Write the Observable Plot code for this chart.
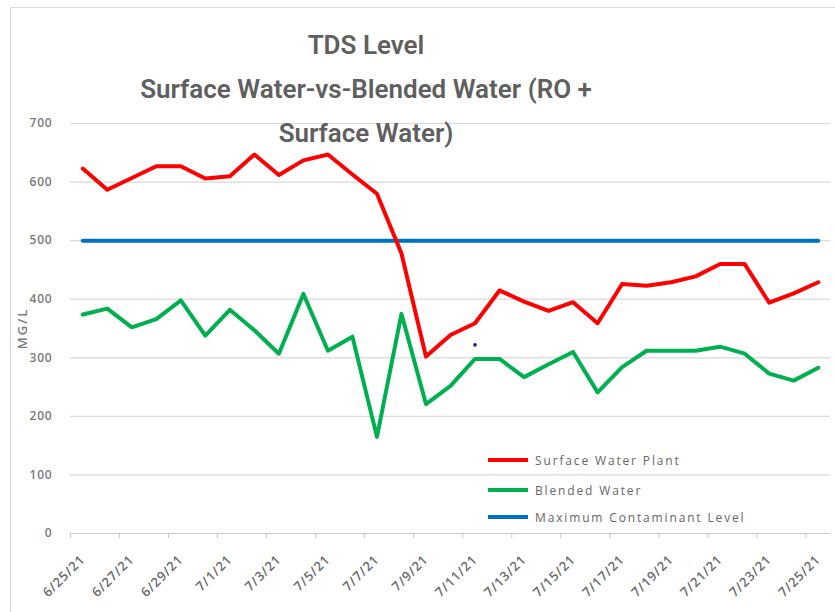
<!DOCTYPE html>
<html>
<head>
<meta charset="utf-8">
<script src="https://cdn.jsdelivr.net/npm/d3@7"></script>
<script src="https://cdn.jsdelivr.net/npm/@observablehq/plot@0.6"></script>
<style>
  body { margin: 0; background: #fff; }
  #wrap { position: relative; width: 835px; height: 612px; overflow: hidden; font-family: "Open Sans", sans-serif; background: #fff; }
  #frame { position: absolute; left: 10px; top: 7px; width: 900px; height: 700px; border-left: 1px solid #d9d9d9; border-top: 1px solid #d9d9d9; }
  #chart { position: absolute; left: 0; top: 0; }
  #title { position: absolute; left: 0; top: 23px; width: 732px; text-align: center; color: #5f5f5f;
           font-family: Roboto, sans-serif; font-weight: 600; font-size: 26px; line-height: 44px; }
  .lg { position: absolute; left: 488px; height: 16px; display: flex; align-items: center; }
  .lg .sw { width: 40px; height: 4px; margin-right: 7px; }
  .lg .tx { font-family: "Open Sans", sans-serif; font-size: 12px; letter-spacing: 1.85px; color: #666; }
  svg text { letter-spacing: 0.8px; }
</style>
</head>
<body>
<div id="wrap">
  <div id="frame"></div>
  <div id="chart"></div>
  <div id="title">TDS Level<br>Surface Water-vs-Blended Water (RO +<br>Surface Water)</div>
  <div id="legend"></div>
</div>
<script>
// ---- data ----
const dates = ["6/25/21","6/26/21","6/27/21","6/28/21","6/29/21","6/30/21","7/1/21","7/2/21","7/3/21","7/4/21",
               "7/5/21","7/6/21","7/7/21","7/8/21","7/9/21","7/10/21","7/11/21","7/12/21","7/13/21","7/14/21",
               "7/15/21","7/16/21","7/17/21","7/18/21","7/19/21","7/20/21","7/21/21","7/22/21","7/23/21","7/24/21","7/25/21"];
const surfaceWaterPlant = [623,587,607,627,627,606,610,647,612,637,
                           647,613,580,478,302,339,359,415,396,380,
                           395,359,426,423,429,439,460,460,394,410,429];
const blendedWater = [374,384,352,366,398,338,382,347,307,409,
                      312,336,165,375,221,252,298,298,267,289,
                      310,241,284,312,312,312,319,307,273,261,283];
const maxContaminantLevel = [500,500,500,500,500,500,500,500,500,500,
                             500,500,500,500,500,500,500,500,500,500,
                             500,500,500,500,500,500,500,500,500,500,500];
const tickLabels = ["6/25/21","6/27/21","6/29/21","7/1/21","7/3/21","7/5/21","7/7/21","7/9/21",
                    "7/11/21","7/13/21","7/15/21","7/17/21","7/19/21","7/21/21","7/23/21","7/25/21"];
const yTicks = [0,100,200,300,400,500,600,700];
const strayDates = ["7/11/21"];
const strayValues = [322];
const seriesNames = ["Surface Water Plant","Blended Water","Maximum Contaminant Level"];
const seriesColors = ["#FF0000","#00B050","#0070C0"];

// ---- build ----
const parse = d3.utcParse("%m/%d/%y");
const table = dates.map((d, i) => ({
  date: parse(d), surface: surfaceWaterPlant[i], blended: blendedWater[i], mcl: maxContaminantLevel[i]
}));
const stray = strayDates.map((d, i) => ({date: parse(d), value: strayValues[i]}));
const half = 12 * 3600 * 1000;
const xDomain = [new Date(+table[0].date - half), new Date(+table[table.length - 1].date + half)];
const tickDates = tickLabels.map(parse);
const boundaries = tickDates.map(d => new Date(+d - half));

const chart = Plot.plot({
  width: 835, height: 612,
  marginLeft: 70, marginRight: 5, marginTop: 123, marginBottom: 79,
  style: {fontFamily: "'Open Sans', sans-serif", fontSize: "12px", color: "#666", background: "transparent"},
  x: {type: "utc", domain: xDomain},
  y: {domain: [0, 700]},
  marks: [
    Plot.gridY(yTicks.filter(v => v > 0), {stroke: "#d9d9d9", strokeOpacity: 1, strokeWidth: 1.2}),
    Plot.ruleY([0], {stroke: "#c8c8c8", strokeWidth: 1.2}),
    Plot.axisY(yTicks, {tickSize: 0, tickPadding: 18, fontSize: 12, fontWeight: 600, fill: "#7a7a7a",
                        label: "MG/L", labelAnchor: "center", labelArrow: "none", labelOffset: 53}),
    Plot.axisX(boundaries, {tickSize: 5, tickFormat: () => "", label: null, stroke: "#c8c8c8"}),
    Plot.axisX(tickDates, {tickSize: 0, tickPadding: 24, tickRotate: -45, fontSize: 13, fontWeight: 600,
                           fill: "#6a6a6a", label: null, tickFormat: (d, i) => tickLabels[i]}),
    Plot.lineY(table, {x: "date", y: "mcl", stroke: seriesColors[2], strokeWidth: 4}),
    Plot.lineY(table, {x: "date", y: "blended", stroke: seriesColors[1], strokeWidth: 4}),
    Plot.lineY(table, {x: "date", y: "surface", stroke: seriesColors[0], strokeWidth: 4}),
    Plot.dot(stray, {x: "date", y: "value", r: 1.8, fill: "#1a237e", stroke: null})
  ]
});
document.getElementById("chart").appendChild(chart);
// larger y-axis label to match the reference
chart.querySelectorAll("text").forEach(t => {
  if (t.textContent === "MG/L") { t.style.fontSize = "13px"; t.style.letterSpacing = "2px"; }
});

// legend (line swatches)
const legend = document.getElementById("legend");
const legendTops = [452, 482, 509];
seriesNames.forEach((name, i) => {
  const item = document.createElement("div");
  item.className = "lg";
  item.style.top = legendTops[i] + "px";
  item.innerHTML = `<div class="sw" style="background:${seriesColors[i]}"></div><div class="tx">${name}</div>`;
  legend.appendChild(item);
});
</script>
</body>
</html>
